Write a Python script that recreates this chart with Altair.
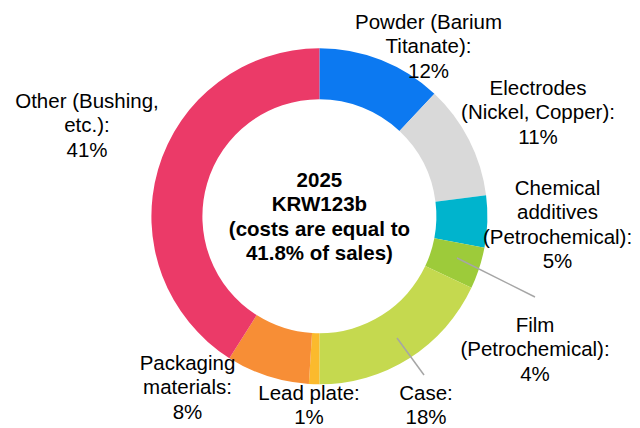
import altair as alt
import pandas as pd

# ---- data ----
categories = [
    "Powder (Barium Titanate)",
    "Electrodes (Nickel, Copper)",
    "Chemical additives (Petrochemical)",
    "Film (Petrochemical)",
    "Case",
    "Lead plate",
    "Packaging materials",
    "Other (Bushing, etc.)",
]
shares = [12, 11, 5, 4, 18, 1, 8, 41]
label_lines = [
    ["Powder (Barium", "Titanate):"],
    ["Electrodes", "(Nickel, Copper):"],
    ["Chemical", "additives", "(Petrochemical):"],
    ["Film", "(Petrochemical):"],
    ["Case:"],
    ["Lead plate:"],
    ["Packaging", "materials:"],
    ["Other (Bushing,", "etc.):"],
]
center_lines = ["2025", "KRW123b", "(costs are equal to", "41.8% of sales)"]

# ---- styling / layout (not data) ----
colors = ["#0C79F1", "#D9D9D9", "#00B4CD", "#9DCB3A", "#C5D94F", "#FBBA2D", "#F78E36", "#EB3A68"]
label_pos = [  # (x, first-baseline y) in chart pixels
    (420.5, 21), (530, 87), (549.5, 187), (527, 324),
    (418, 392), (301, 392), (179.5, 362), (79, 100),
]
leaders = [((449, 250), (527, 289)), ((389, 330), (416, 367))]
CX, CY = 311.4, 208.3
FONT = "Liberation Sans"
FS = 20.5
LH = 24.4

df = pd.DataFrame({"category": categories, "share": shares, "order": list(range(len(categories)))})

donut = alt.Chart(df).mark_arc(outerRadius=168, innerRadius=117, x=CX, y=CY).encode(
    theta=alt.Theta("share:Q", stack=True),
    order=alt.Order("order:Q", sort="ascending"),
    color=alt.Color("category:N", scale=alt.Scale(domain=categories, range=colors), legend=None),
)

layers = [donut]

one = pd.DataFrame({"k": [0]})
for (p0, p1) in leaders:
    layers.append(
        alt.Chart(one).mark_rule(color="#A6A6A6", strokeWidth=1.5).encode(
            x=alt.value(p0[0]), y=alt.value(p0[1]), x2=alt.value(p1[0]), y2=alt.value(p1[1])
        )
    )

for lines, v, (lx, ly) in zip(label_lines, shares, label_pos):
    layers.append(
        alt.Chart(one).mark_text(
            font=FONT, fontSize=FS, lineHeight=LH, align="center", baseline="alphabetic", color="#000000"
        ).encode(x=alt.value(lx), y=alt.value(ly), text=alt.value(lines + [f"{v}%"]))
    )

layers.append(
    alt.Chart(one).mark_text(
        font=FONT, fontSize=20.5, fontWeight="bold", lineHeight=24.3, align="center",
        baseline="alphabetic", color="#000000"
    ).encode(x=alt.value(CX), y=alt.value(179), text=alt.value(center_lines))
)

chart = alt.layer(*layers).properties(
    width=624, height=420, padding=0, autosize=alt.AutoSizeParams(type="none"), background="white"
).configure_view(stroke=None)

chart.save("out.html", embed_options={"renderer": "svg", "actions": False})
